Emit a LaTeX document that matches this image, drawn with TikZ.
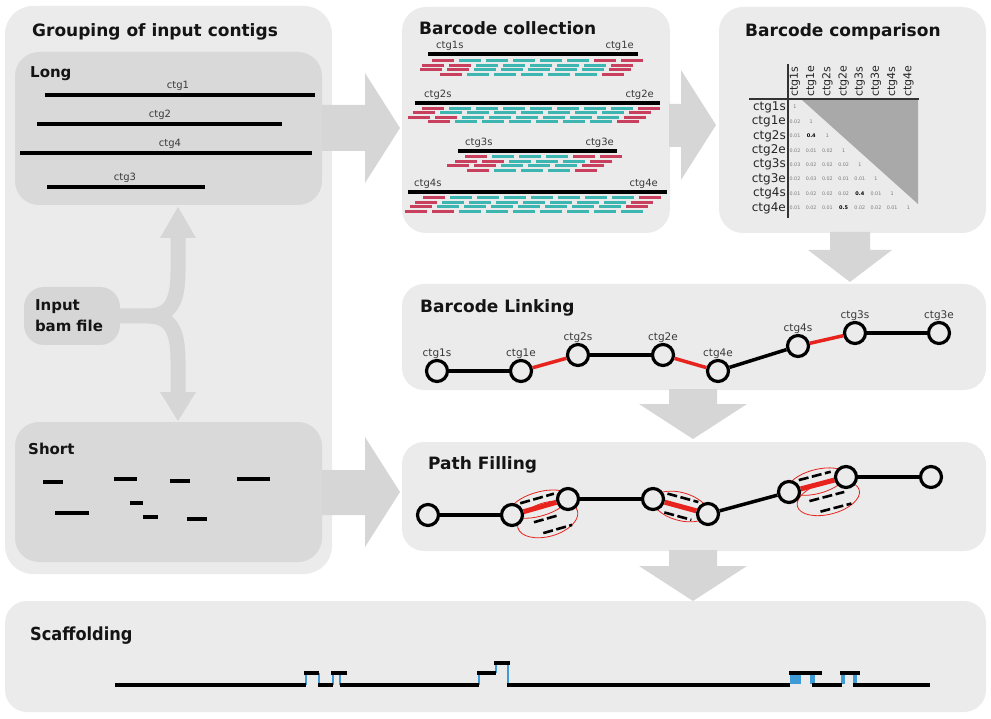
\documentclass[tikz,border=0pt]{standalone}
\usepackage{fontspec}
\setmainfont{DejaVu Sans}
\newfontfamily\condfont{DejaVu Sans Condensed}
\usetikzlibrary{calc}
\definecolor{panelfill}{HTML}{EBEBEB}
\definecolor{innerfill}{HTML}{D9D9D9}
\definecolor{arrowfill}{HTML}{D6D6D6}
\definecolor{readred}{HTML}{C9405E}
\definecolor{readteal}{HTML}{3DB5B0}
\definecolor{edgered}{HTML}{E8231E}
\definecolor{scafblue}{HTML}{3E9BD6}
\definecolor{trigray}{HTML}{A9A9A9}
\definecolor{txtgray}{HTML}{3A3A3A}
\definecolor{valgray}{HTML}{7A7A7A}

\newcommand\readrow[5]{%
  \pgfmathtruncatemacro\rdn{floor((#3-#2+6)/27)-1}%
  \foreach \rdi in {0,...,\rdn}{%
    \pgfmathsetmacro\rdx{#2+27*\rdi}%
    \pgfmathtruncatemacro\rdred{or(\rdx+11<#4+36,\rdx+11>#5-34)}%
    \ifnum\rdred=1\relax\def\rdcol{readred}\else\def\rdcol{readteal}\fi
    \draw[line width=3pt,color=\rdcol] (\rdx,#1) -- ++(22,0);%
  }%
}
\newcommand\bval[1]{\textcolor{black}{\bfseries\fontsize{5}{5}\selectfont #1}}

\begin{document}
\begin{tikzpicture}[x=1pt,y=-1pt,
  title/.style={font=\bfseries\fontsize{17}{19}\selectfont, anchor=base west, inner sep=0pt, text=black!92},
  subtitle/.style={font=\bfseries\fontsize{15}{17}\selectfont, anchor=base west, inner sep=0pt, text=black!92},
  contig/.style={line width=3.4pt, black},
  clabel/.style={font=\fontsize{10}{10}\selectfont, text=txtgray, inner sep=0pt},
  nlab/.style={font=\fontsize{10.5}{10.5}\selectfont, text=txtgray, inner sep=0.5pt},
  cnode/.style={circle, draw=black, line width=3.2pt, fill=panelfill, minimum size=21pt, inner sep=0pt, label distance=2pt},
  blk/.style={line width=3.5pt, black},
  rededge/.style={line width=3.5pt, edgered},
  fillred/.style={line width=5pt, edgered},
  filldash/.style={line width=2.6pt, black, dash pattern=on 10pt off 3.5pt},
  ring/.style={edgered, line width=0.8pt},
  rowlab/.style={font=\fontsize{12}{12}\selectfont, text=black!85, anchor=east, inner sep=0pt},
  collab/.style={font=\fontsize{11}{11}\selectfont, text=black!85, anchor=west, rotate=90, inner sep=0pt},
  mval/.style={font=\fontsize{4.8}{4.8}\selectfont, text=valgray, inner sep=0pt},
  scafseg/.style={line width=3.2pt, black},
  scafgap/.style={line width=2.6pt, scafblue}
]
\useasboundingbox (0,0) rectangle (991,719);

% ---------------- panels ----------------
\fill[panelfill, rounded corners=28pt] (5,6) rectangle (332,574);
\fill[innerfill, rounded corners=24pt] (15,52) rectangle (322,205);
\fill[innerfill, rounded corners=24pt] (15,422) rectangle (322,562);
\fill[panelfill, rounded corners=24pt] (402,7) rectangle (670,233);
\fill[panelfill, rounded corners=24pt] (719,7) rectangle (986,233);
\fill[panelfill, rounded corners=22pt] (402,284) rectangle (986,390);
\fill[panelfill, rounded corners=22pt] (402,442) rectangle (986,551);
\fill[panelfill, rounded corners=22pt] (5,601) rectangle (986,712);

% ---------------- block arrows ----------------
\fill[arrowfill] (322,105) -- (365,105) -- (365,73) -- (400,128) -- (365,183) -- (365,151) -- (322,151) -- cycle;
\fill[arrowfill] (322,470) -- (365,470) -- (365,437) -- (400,492) -- (365,547) -- (365,515) -- (322,515) -- cycle;
\fill[arrowfill] (669,104) -- (681,104) -- (681,70) -- (716,125) -- (681,180) -- (681,147) -- (669,147) -- cycle;
\fill[arrowfill] (830,232) -- (870,232) -- (870,250) -- (892,250) -- (850,282) -- (808,250) -- (830,250) -- cycle;
\fill[arrowfill] (669,389) -- (717,389) -- (717,404) -- (747,404) -- (693,439) -- (639,404) -- (669,404) -- cycle;
\fill[arrowfill] (669,550) -- (717,550) -- (717,566) -- (747,566) -- (693,601) -- (639,566) -- (669,566) -- cycle;

% input bam arrows
\draw[arrowfill, line width=15pt] (110,316) -- (148,316) .. controls (170,316) and (178,302) .. (178,272) -- (178,236);
\draw[arrowfill, line width=15pt] (148,316) .. controls (170,316) and (178,330) .. (178,360) -- (178,394);
\fill[arrowfill] (160,238) -- (196,238) -- (178,207) -- cycle;
\fill[arrowfill] (160,392) -- (196,392) -- (178,421) -- cycle;
\node[fill=arrowfill, rounded corners=20pt, minimum width=96pt, minimum height=58pt, text width=74pt, align=left,
      font=\bfseries\fontsize{15}{21}\selectfont, inner sep=0pt, text=black!92] (bam) at (72,316) {Input\\bam file};

% ---------------- titles ----------------
\node[title] (tgroup) at (32,37) {Grouping of input contigs};
\node[subtitle] (tlong) at (30,78) {Long};
\node[subtitle] (tshort) at (28,454) {Short};
\node[title] (tcoll) at (419,35) {Barcode collection};
\node[title] (tcomp) at (745,37) {Barcode comparison};
\node[title] (tlink) at (420,313) {Barcode Linking};
\node[title] (tpath) at (428,469) {Path Filling};
\node[font=\condfont\bfseries\fontsize{18}{20}\selectfont, anchor=base west, inner sep=0pt, text=black!92] (tscaf) at (30,640) {Scaffolding};

% ---------------- long contigs ----------------
\draw[contig] (45,95) -- (315,95);
\node[clabel] (l1) at (178,86) {ctg1};
\draw[contig] (37,124) -- (282,124);
\node[clabel] (l2) at (160,115) {ctg2};
\draw[contig] (20,153) -- (312,153);
\node[clabel] (l4) at (170,144) {ctg4};
\draw[contig] (47,187) -- (205,187);
\node[clabel] (l3) at (125,178) {ctg3};

% ---------------- short contigs ----------------
\draw[contig] (43,482) -- (63,482);
\draw[contig] (114,479) -- (137,479);
\draw[contig] (170,481) -- (190,481);
\draw[contig] (237,479) -- (270,479);
\draw[contig] (130,503) -- (143,503);
\draw[contig] (143,517) -- (158,517);
\draw[contig] (55,513) -- (89,513);
\draw[contig] (187,519) -- (207,519);

% ---------------- barcode collection ----------------
\foreach \ry/\ra/\rb in {61/432/647, 65.5/422/642, 70/420/633, 74.5/440/628}{\readrow{\ry}{\ra}{\rb}{428}{638}}
\foreach \ry/\ra/\rb in {108.5/422/663, 113/413/657, 117.5/408/652, 122/428/642}{\readrow{\ry}{\ra}{\rb}{415}{660}}
\foreach \ry/\ra/\rb in {157/465/625, 161.5/455/615, 166/447/607, 170.5/467/608}{\readrow{\ry}{\ra}{\rb}{458}{617}}
\foreach \ry/\ra/\rb in {198/423/667, 202.5/415/658, 207/410/652, 211.5/405/642}{\readrow{\ry}{\ra}{\rb}{408}{667}}
\draw[contig] (428,54) -- (638,54);
\draw[contig] (415,103) -- (660,103);
\draw[contig] (458,151) -- (617,151);
\draw[contig] (408,192) -- (667,192);
\node[clabel, anchor=base west] (c1s) at (436,49) {ctg1s};
\node[clabel, anchor=base east] (c1e) at (634,49) {ctg1e};
\node[clabel, anchor=base west] (c2s) at (424,98) {ctg2s};
\node[clabel, anchor=base east] (c2e) at (654,98) {ctg2e};
\node[clabel, anchor=base west] (c3s) at (465,146) {ctg3s};
\node[clabel, anchor=base east] (c3e) at (614,146) {ctg3e};
\node[clabel, anchor=base west] (c4s) at (414,187) {ctg4s};
\node[clabel, anchor=base east] (c4e) at (658,187) {ctg4e};

% ---------------- barcode comparison ----------------
\fill[trigray] (802,100) -- (918,100) -- (918,204) -- cycle;
\draw[line width=1.6pt, black!80] (788,64) -- (788,218);
\draw[line width=1.6pt, black!80] (749,99) -- (919,99);
\foreach \lab [count=\k] in {ctg1s,ctg1e,ctg2s,ctg2e,ctg3s,ctg3e,ctg4s,ctg4e}{
  \node[rowlab] (r\k) at (786,{107+14.43*(\k-1)}) {\lab};
  \node[collab] (c\k) at ({795+16.2*(\k-1)},97) {\lab};
}
\foreach \mi/\mvals in {1/{1}, 2/{0.02,1}, 3/{0.01,\bval{0.4},1}, 4/{0.02,0.01,0.02,1},
   5/{0.03,0.02,0.02,0.02,1}, 6/{0.02,0.03,0.02,0.01,0.01,1},
   7/{0.01,0.02,0.02,0.02,\bval{0.4},0.01,1}, 8/{0.01,0.02,0.01,\bval{0.5},0.02,0.02,0.01,1}}{
  \foreach \mv [count=\mj] in \mvals {
    \node[mval] (m\mi-\mj) at ({795+16.2*(\mj-1)},{107+14.43*(\mi-1)}) {\mv};
  }
}

% ---------------- barcode linking ----------------
\foreach \n/\x/\y/\l in {1/437/371/ctg1s, 2/521/371/ctg1e, 3/578/355/ctg2s, 4/663/355/ctg2e,
                         5/718/371/ctg4e, 6/798/346/ctg4s, 7/855/333/ctg3s, 8/939/333/ctg3e}{
  \node[cnode, label={[nlab]above:\l}] (bl\n) at (\x,\y) {};
}
\draw[blk] (bl1) -- (bl2);
\draw[rededge] (bl2) -- (bl3);
\draw[blk] (bl3) -- (bl4);
\draw[rededge] (bl4) -- (bl5);
\draw[blk] (bl5) -- (bl6);
\draw[rededge] (bl6) -- (bl7);
\draw[blk] (bl7) -- (bl8);

% ---------------- path filling ----------------
\begin{scope}[shift={(540,507)}, rotate=15.9]
  \draw[ring] (0,-3) ellipse [x radius=30, y radius=12];
  \draw[ring] (4,14) ellipse [x radius=31, y radius=17];
  \draw[filldash] (-18,-9) -- (17,-9);
  \draw[filldash] (-10,13) -- (14,13);
  \draw[filldash] (-4,26) -- (26,26);
\end{scope}
\begin{scope}[shift={(680.5,506.5)}, rotate=-15.3]
  \draw[ring] (0,0) ellipse [x radius=28, y radius=14];
  \draw[filldash] (-16,-9) -- (16,-9);
  \draw[filldash] (-14,10) -- (14,10);
\end{scope}
\begin{scope}[shift={(817.5,484.5)}, rotate=14.7]
  \draw[ring] (0,-3) ellipse [x radius=29, y radius=12];
  \draw[ring] (7,16) ellipse [x radius=32, y radius=16];
  \draw[filldash] (-17,-9) -- (16,-9);
  \draw[filldash] (-12,14) -- (24,14);
  \draw[filldash] (-4,27) -- (28,27);
\end{scope}
\foreach \n/\x/\y in {1/428/515, 2/512/515, 3/568/499, 4/653/499, 5/708/514, 6/789/492, 7/846/477, 8/931/477}{
  \node[cnode] (pf\n) at (\x,\y) {};
}
\draw[blk] (pf1) -- (pf2);
\draw[fillred] (pf2) -- (pf3);
\draw[blk] (pf3) -- (pf4);
\draw[fillred] (pf4) -- (pf5);
\draw[blk] (pf5) -- (pf6);
\draw[fillred] (pf6) -- (pf7);
\draw[blk] (pf7) -- (pf8);

% ---------------- scaffolding ----------------
\fill[scafblue] (790,674) rectangle (801,684);
\fill[scafblue] (810,674) rectangle (815,684);
\fill[scafblue] (841,674) rectangle (845,684);
\fill[scafblue] (853,674) rectangle (857,684);
\draw[scafgap] (306,673) -- (306,685);
\draw[scafgap] (319,673) -- (319,685);
\draw[scafgap] (333,673) -- (333,685);
\draw[scafgap] (340,673) -- (340,685);
\draw[scafgap] (479,673) -- (479,685);
\draw[scafgap] (496,663) -- (496,673);
\draw[scafgap] (508,663) -- (508,685);
\draw[scafseg] (115,685) -- (306,685);
\draw[scafseg] (304,673) -- (319,673);
\draw[scafseg] (318,685) -- (333,685);
\draw[scafseg] (331,673) -- (347,673);
\draw[scafseg] (340,685) -- (479,685);
\draw[scafseg] (477,673) -- (496,673);
\draw[scafseg] (494,663) -- (510,663);
\draw[scafseg] (507,685) -- (790,685);
\draw[scafseg] (789,673) -- (822,673);
\draw[scafseg] (812,685) -- (842,685);
\draw[scafseg] (840,673) -- (860,673);
\draw[scafseg] (853,685) -- (930,685);
\end{tikzpicture}
\end{document}
